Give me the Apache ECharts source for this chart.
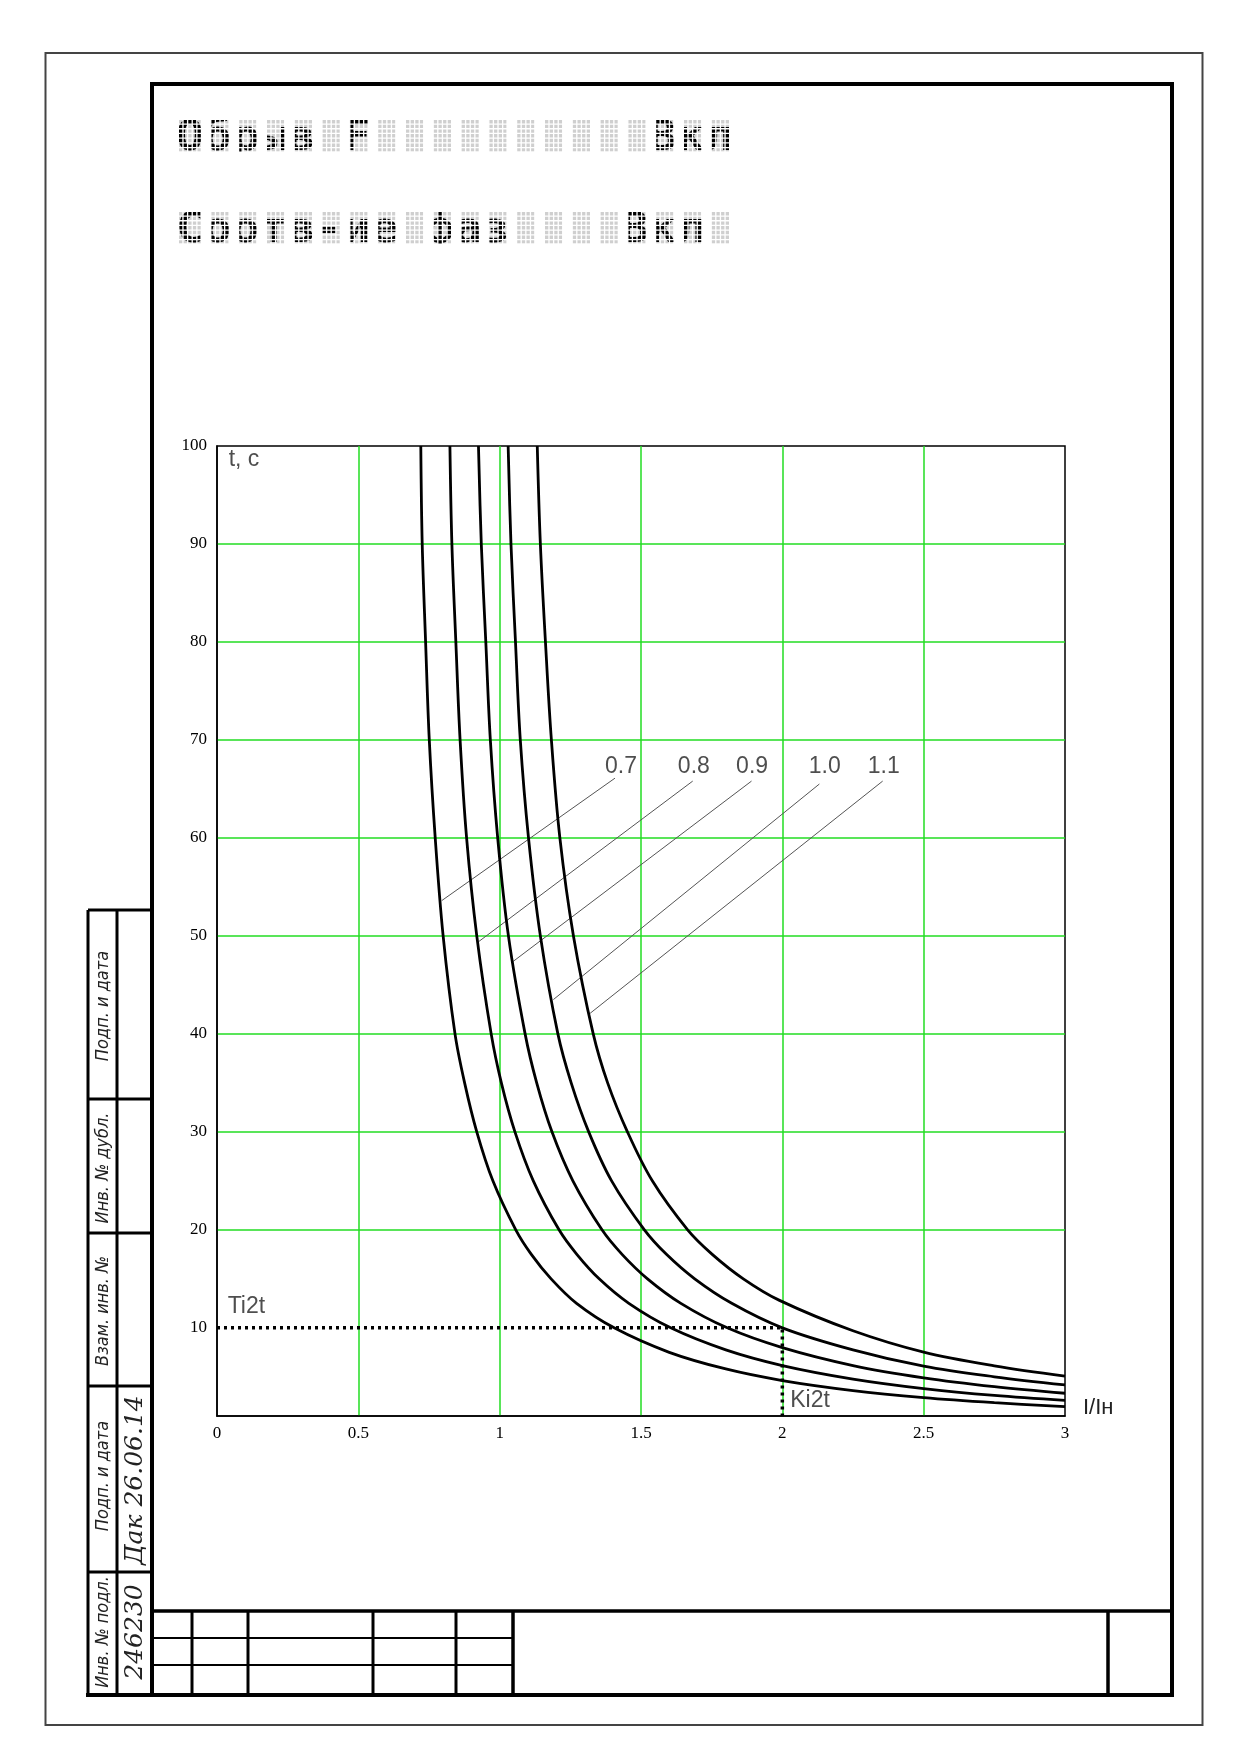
<!DOCTYPE html>
<html>
<head>
<meta charset="utf-8">
<title>Время-токовые характеристики</title>
<script src="https://cdn.jsdelivr.net/npm/echarts@6/dist/echarts.min.js"></script>
<style>
  html, body { margin: 0; padding: 0; background: #fff; }
  #chart { width: 1239px; height: 1754px; }
</style>
</head>
<body>
<div id="chart"></div>
<script>
// строки индикатора, по 20 знакомест
var lcdLines = ['Обрыв F          Вкл', 'Соотв-ие фаз    Вкл '];

// оси
var xTicks = [0, 0.5, 1, 1.5, 2, 2.5, 3];
var yTicks = [10, 20, 30, 40, 50, 60, 70, 80, 90, 100];
var yMin = 1;

// кривые t = f(I/Iн), точки [I/Iн, t]
var curveNames = ['0.7', '0.8', '0.9', '1.0', '1.1'];
var curve07 = [[0.721, 100], [0.726, 90], [0.738, 80], [0.751, 70], [0.772, 60], [0.800, 50], [0.842, 40], [0.876, 35],
  [0.919, 30], [0.976, 25], [1.057, 20], [1.112, 17.5], [1.182, 15], [1.272, 12.5], [1.405, 10],
  [1.6, 7.5], [1.8, 5.8], [2, 4.62], [2.25, 3.6], [2.5, 2.88], [2.75, 2.36], [3, 1.95]];
var curve08 = [[0.824, 100], [0.831, 90], [0.845, 80], [0.860, 70], [0.883, 60], [0.919, 50], [0.970, 40], [1.006, 35],
  [1.054, 30], [1.119, 25], [1.210, 20], [1.273, 17.5], [1.352, 15], [1.457, 12.5], [1.605, 10],
  [1.8, 7.75], [2, 6.15], [2.25, 4.77], [2.5, 3.8], [2.75, 3.1], [3, 2.6]];
var curve09 = [[0.925, 100], [0.935, 90], [0.951, 80], [0.967, 70], [0.993, 60], [1.031, 50], [1.090, 40], [1.131, 35],
  [1.185, 30], [1.259, 25], [1.362, 20], [1.433, 17.5], [1.523, 15], [1.641, 12.5], [1.805, 10],
  [2, 7.98], [2.25, 6.15], [2.5, 4.9], [2.75, 4.0], [3, 3.32]];
var curve10 = [[1.030, 100], [1.040, 90], [1.056, 80], [1.073, 70], [1.102, 60], [1.144, 50], [1.206, 40], [1.253, 35],
  [1.315, 30], [1.396, 25], [1.512, 20], [1.590, 17.5], [1.690, 15], [1.821, 12.5], [2, 10],
  [2.25, 7.75], [2.5, 6.08], [2.75, 5.0], [3, 4.17]];
var curve11 = [[1.133, 100], [1.144, 90], [1.162, 80], [1.183, 70], [1.213, 60], [1.261, 50], [1.331, 40], [1.382, 35],
  [1.452, 30], [1.540, 25], [1.665, 20], [1.752, 17.5], [1.862, 15], [1.99, 12.8],
  [2.25, 9.7], [2.5, 7.52], [2.75, 6.12], [3, 5.08]];
var curves = [curve07, curve08, curve09, curve10, curve11];

// подписи кривых и выноски к ним
var labelPos = [[1.429, 67.3], [1.687, 67.3], [1.893, 67.3], [2.150, 67.3], [2.359, 67.3]];
var leaderFrom = [[1.408, 66.1], [1.683, 65.8], [1.891, 65.8], [2.131, 65.5], [2.355, 65.8]];
var leaderTo = [[0.795, 53.6], [0.925, 49.4], [1.048, 47.4], [1.190, 43.5], [1.320, 42.1]];

// уставки
var ti2t = 10;
var ki2t = 2;

// прочие надписи на поле графика
var fieldTexts = [['t, c', [0.0955, 98.6]], ['Ti2t', [0.104, 12.2]], ['Ki2t', [2.098, 2.6]]];

var GREEN = '#22dd22';
var SANS = '"Liberation Sans", Arial, sans-serif';
var SERIF = '"Liberation Serif", "Times New Roman", serif';
var NARROW = '"Liberation Sans Narrow", "DejaVu Sans Condensed", sans-serif';

function seg(x1, y1, x2, y2, w, color) {
  return { type: 'line', shape: { x1: x1, y1: y1, x2: x2, y2: y2 }, style: { stroke: color || '#000', lineWidth: w } };
}

function vtext(txt, x, y, size, family) {
  return {
    type: 'text', x: x, y: y, rotation: Math.PI / 2,
    style: { text: txt, fontSize: size, fontFamily: family, fontStyle: 'italic', fill: '#222', align: 'center', verticalAlign: 'middle' }
  };
}

// точечно-матричная строка: серые знакоместа, текст, белая сетка поверх
function lcdLine(txt, x0, y0) {
  var px = 4.63, py = 4.7, dw = 3.3, dh = 3.4, cell = 27.8;
  var cw = px * 4 + dw, ch = py * 6 + dh;
  var fs = 43.3;
  var n = txt.length, els = [];
  for (var i = 0; i < n; i++) {
    els.push({ type: 'rect', shape: { x: x0 + i * cell, y: y0, width: cw, height: ch }, style: { fill: '#cfcfcf' } });
  }
  els.push({
    type: 'text', x: x0 - 3, y: y0 + ch - 0.297 * fs, scaleX: cell / (0.602 * fs),
    style: { text: txt, fontSize: fs, fontFamily: '"DejaVu Sans Mono", monospace', fontWeight: 'bold', fill: '#000', align: 'left', verticalAlign: 'middle' }
  });
  var top = y0 - 24, h = ch + 48;
  els.push({ type: 'rect', shape: { x: x0 - 14, y: top, width: n * cell + 28, height: 24 }, style: { fill: '#fff' } });
  els.push({ type: 'rect', shape: { x: x0 - 14, y: y0 + ch, width: n * cell + 28, height: 24 }, style: { fill: '#fff' } });
  els.push({ type: 'rect', shape: { x: x0 - 14, y: top, width: 14, height: h }, style: { fill: '#fff' } });
  for (var r = 0; r < 6; r++) {
    els.push({ type: 'rect', shape: { x: x0, y: y0 + r * py + dh, width: n * cell, height: py - dh }, style: { fill: '#fff' } });
  }
  for (var k = 0; k < n; k++) {
    var cx = x0 + k * cell;
    for (var c = 0; c < 4; c++) {
      els.push({ type: 'rect', shape: { x: cx + c * px + dw, y: top, width: px - dw, height: h }, style: { fill: '#fff' } });
    }
    els.push({ type: 'rect', shape: { x: cx + cw, y: top, width: cell - cw + 4, height: h }, style: { fill: '#fff' } });
  }
  return els;
}

// рамка листа, штамп и основная надпись
var sheet = [
  { type: 'rect', shape: { x: 45.5, y: 53, width: 1157, height: 1672 }, style: { fill: 'none', stroke: '#444', lineWidth: 2 } },
  { type: 'rect', shape: { x: 152, y: 84, width: 1020, height: 1611 }, style: { fill: 'none', stroke: '#000', lineWidth: 4 } },
  seg(152, 1611, 1172, 1611, 3.5),
  seg(152, 1638, 513, 1638, 2),
  seg(152, 1665, 513, 1665, 2),
  seg(192, 1611, 192, 1695, 3),
  seg(248, 1611, 248, 1695, 3),
  seg(373, 1611, 373, 1695, 3),
  seg(456, 1611, 456, 1695, 3),
  seg(513, 1611, 513, 1695, 3.5),
  seg(1108, 1611, 1108, 1695, 3.5),
  seg(88, 910, 88, 1695, 3),
  seg(117, 910, 117, 1695, 3),
  seg(88, 910, 152, 910, 3),
  seg(88, 1099, 152, 1099, 3),
  seg(88, 1233, 152, 1233, 3),
  seg(88, 1386, 152, 1386, 3),
  seg(88, 1572, 152, 1572, 3),
  seg(86, 1695, 152, 1695, 4),
  vtext('Подп. и дата', 103, 1006, 18, NARROW),
  vtext('Инв. № дубл.', 103, 1168, 18, NARROW),
  vtext('Взам. инв. №', 103, 1311, 18, NARROW),
  vtext('Подп. и дата', 103, 1476, 18, NARROW),
  vtext('Инв. № подл.', 103, 1632, 18, NARROW),
  vtext('Дак 26.06.14', 135, 1480, 25, '"DejaVu Serif", serif'),
  vtext('246230', 135, 1632, 25, '"DejaVu Serif", serif')
];

var graphics = sheet.concat(lcdLine(lcdLines[0], 179, 120), lcdLine(lcdLines[1], 179, 212));

var series = [];
curves.forEach(function (data, i) {
  series.push({
    name: curveNames[i], type: 'line', data: data, smooth: 0.35, symbol: 'none',
    lineStyle: { color: '#000', width: 2.8 }, z: 4
  });
});
leaderFrom.forEach(function (p, i) {
  series.push({
    type: 'line', data: [p, leaderTo[i]], symbol: 'none',
    lineStyle: { color: '#555', width: 1 }, z: 3
  });
});
// уставки Ti2t / Ki2t
series.push({
  type: 'line', data: [[0, ti2t], [ki2t, ti2t], [ki2t, yMin]], symbol: 'none',
  lineStyle: { color: '#000', width: 3.5, type: [3, 4] }, z: 5
});
series.push({
  type: 'scatter', symbolSize: 1, itemStyle: { color: 'rgba(0,0,0,0)' }, z: 6,
  data: curveNames.map(function (n, i) { return { name: n, value: labelPos[i] }; })
    .concat(fieldTexts.map(function (t) { return { name: t[0], value: t[1] }; })),
  label: {
    show: true, position: 'inside', formatter: function (p) { return p.name; },
    color: '#222', fontSize: 23, fontFamily: SANS
  }
});

var myChart = echarts.init(document.getElementById('chart'));
myChart.setOption({
  animation: false,
  backgroundColor: '#fff',
  graphic: { elements: graphics },
  grid: { left: 217, top: 446, width: 848, height: 970, show: true, borderColor: '#000', borderWidth: 1.5, backgroundColor: 'rgba(0,0,0,0)' },
  xAxis: {
    type: 'value', min: xTicks[0], max: xTicks[xTicks.length - 1], interval: 0.5,
    name: 'I/Iн', nameLocation: 'end', nameGap: 18,
    nameTextStyle: { fontFamily: SANS, fontSize: 22, color: '#222', align: 'left', verticalAlign: 'bottom', lineHeight: 16 },
    axisLine: { show: true, onZero: false, lineStyle: { color: '#000', width: 1.5 } },
    axisTick: { show: false },
    axisLabel: { fontFamily: SERIF, fontSize: 17, color: '#000', margin: 9 },
    splitLine: { show: true, showMinLine: false, showMaxLine: false, lineStyle: { color: GREEN, width: 1.5 } }
  },
  yAxis: {
    type: 'value', min: yMin, max: 100,
    axisLine: { show: true, onZero: false, lineStyle: { color: '#000', width: 1.5 } },
    axisTick: { show: false, customValues: yTicks },
    axisLabel: { customValues: yTicks, fontFamily: SERIF, fontSize: 17, color: '#000', margin: 10 },
    splitLine: { show: true, showMinLine: false, showMaxLine: false, lineStyle: { color: GREEN, width: 1.5 } }
  },
  series: series
});
</script>
</body>
</html>
